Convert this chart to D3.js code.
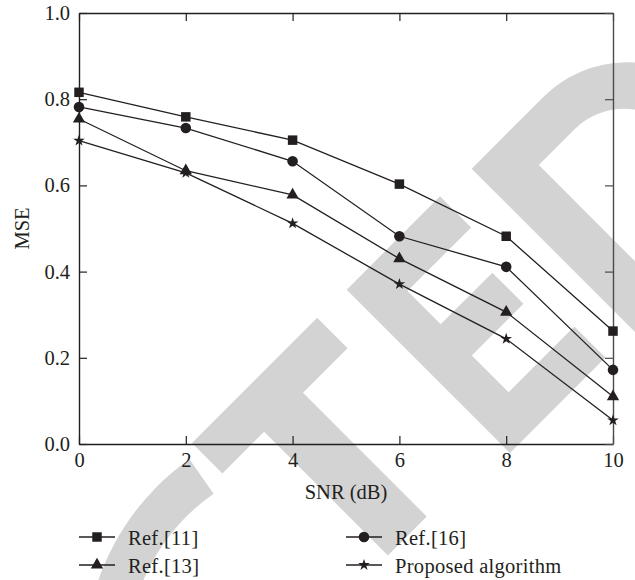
<!DOCTYPE html>
<html>
<head>
<meta charset="utf-8">
<script src="https://cdn.jsdelivr.net/npm/d3@7"></script>
<style>
  html, body { margin: 0; padding: 0; background: #fff; }
  svg { display: block; }
</style>
</head>
<body>
<svg id="chart" width="635" height="580"></svg>
<script>
// ---- data ----
const snr = [0, 2, 4, 6, 8, 10];
const ref11 = [0.816, 0.759, 0.705, 0.603, 0.482, 0.262];
const ref16 = [0.782, 0.733, 0.656, 0.482, 0.411, 0.172];
const ref13 = [0.754, 0.634, 0.578, 0.430, 0.306, 0.110];
const proposed = [0.704, 0.629, 0.512, 0.371, 0.244, 0.055];
const seriesNames = ["Ref.[11]", "Ref.[16]", "Ref.[13]", "Proposed algorithm"];
const xTicks = [0, 2, 4, 6, 8, 10];
const yTicks = [0.0, 0.2, 0.4, 0.6, 0.8, 1.0];
const xTitle = "SNR (dB)";
const yTitle = "MSE";

(function () {
const INK = "#231f20";
const FONT = "'Liberation Serif', 'Times New Roman', serif";
const FS = 20.5;
const mL = 79, mR = 613, mT = 13, mB = 444;

const svg = d3.select("#chart");

// ---- watermark (RETRACTED stamp fragments) ----
const wm = svg.append("g").attr("fill", "#d3d3d3");
// C
wm.append("path")
  .attr("transform", "translate(330,660)")
  .attr("d", d3.arc()({innerRadius: 203, outerRadius: 245,
        startAngle: -120 * Math.PI / 180, endAngle: -35 * Math.PI / 180}));
// T
wm.append("g").attr("transform", "translate(192,443) rotate(-45)")
  .append("polygon")
  .attr("points", [[0,0],[177,0],[177,43],[114,43],[114,218],[59,218],[59,43],[0,43]].map(p => p.join(",")).join(" "));
// E
wm.append("g").attr("transform", "translate(510,453) rotate(-45)")
  .append("polygon")
  .attr("points", [[0,0],[135,0],[135,-44],[42,-44],[42,-96],[115,-96],[115,-140],[42,-140],[42,-187],[132,-187],[132,-231],[0,-231]].map(p => p.join(",")).join(" "));
// D
wm.append("g").attr("transform", "translate(635,332) rotate(-45)")
  .append("path")
  .attr("fill-rule", "evenodd")
  .attr("d", "M0,0 L101,0 A118,115.5 0 0 0 101,-231 L0,-231 Z M50,-45 L101,-45 A70,70.5 0 0 0 101,-186 L50,-186 Z");

// ---- scales ----
const x = d3.scaleLinear().domain([0, 10]).range([mL, mR]);
const y = d3.scaleLinear().domain([0, 1]).range([mB, mT]);

// ---- axes ----
function styleAxis(g, color) {
  g.attr("font-family", FONT).attr("font-size", FS);
  g.select(".domain").attr("stroke", color).attr("stroke-width", 1.4);
  g.selectAll(".tick line").attr("stroke", color).attr("stroke-width", 1.2);
  g.selectAll(".tick text").attr("fill", INK);
}
svg.append("g").attr("transform", `translate(0,${mB})`)
  .call(d3.axisBottom(x).tickValues(xTicks).tickSizeInner(-8).tickSizeOuter(0).tickPadding(8).tickFormat(d3.format("d")))
  .call(g => styleAxis(g, INK));
svg.append("g").attr("transform", `translate(0,${mT})`)
  .call(d3.axisTop(x).tickValues(xTicks).tickSizeInner(-8).tickSizeOuter(0).tickFormat(""))
  .call(g => styleAxis(g, INK));
svg.append("g").attr("transform", `translate(${mL},0)`)
  .call(d3.axisLeft(y).tickValues(yTicks).tickSizeInner(-8).tickSizeOuter(0).tickPadding(9).tickFormat(d3.format(".1f")))
  .call(g => styleAxis(g, INK));
svg.append("g").attr("transform", `translate(${mR},0)`)
  .call(d3.axisRight(y).tickValues(yTicks).tickSizeInner(-8).tickSizeOuter(0).tickFormat(""))
  .call(g => styleAxis(g, "#4a4a4a"));

// ---- titles ----
svg.append("text").attr("x", (mL + mR) / 2).attr("y", 499)
  .attr("text-anchor", "middle").attr("font-family", FONT).attr("font-size", FS)
  .attr("fill", INK).text(xTitle);
svg.append("text").attr("transform", `translate(29,${(mT + mB) / 2}) rotate(-90)`)
  .attr("text-anchor", "middle").attr("font-family", FONT).attr("font-size", FS)
  .attr("fill", INK).text(yTitle);

// ---- series ----
const series = [
  {name: seriesNames[0], values: ref11, symbol: d3.symbolSquare, size: 90},
  {name: seriesNames[1], values: ref16, symbol: d3.symbolCircle, size: 88},
  {name: seriesNames[2], values: ref13, symbol: d3.symbolTriangle, size: 66},
  {name: seriesNames[3], values: proposed, symbol: d3.symbolStar, size: 42}
];
const line = d3.line().x((d, i) => x(snr[i])).y(d => y(d));
const plot = svg.append("g");
series.forEach(s => {
  plot.append("path").attr("d", line(s.values))
    .attr("fill", "none").attr("stroke", INK).attr("stroke-width", 1.3);
});
series.forEach(s => {
  plot.append("g").selectAll("path").data(s.values).join("path")
    .attr("transform", (d, i) => `translate(${x(snr[i])},${y(d)})`)
    .attr("d", d3.symbol(s.symbol, s.size)())
    .attr("fill", INK);
});

// ---- legend ----
const legendPos = [
  {lx: 79, ly: 537},
  {lx: 346, ly: 537},
  {lx: 79, ly: 565},
  {lx: 346, ly: 565}
];
series.forEach((s, i) => {
  const p = legendPos[i];
  const g = svg.append("g").attr("transform", `translate(${p.lx},${p.ly})`);
  g.append("line").attr("x1", 0).attr("x2", 36).attr("y1", 0).attr("y2", 0)
    .attr("stroke", INK).attr("stroke-width", 1.3);
  g.append("path").attr("transform", "translate(18,0)")
    .attr("d", d3.symbol(s.symbol, s.size)()).attr("fill", INK);
  g.append("text").attr("x", 49).attr("y", 8)
    .attr("font-family", FONT).attr("font-size", FS).attr("letter-spacing", 0.3)
    .attr("fill", INK).text(s.name);
});
})();
</script>
</body>
</html>
